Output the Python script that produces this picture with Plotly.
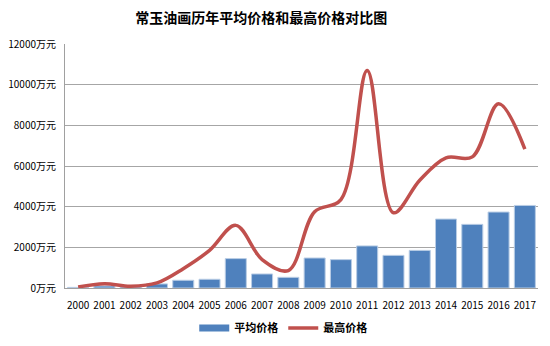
import plotly.graph_objects as go

years = [str(y) for y in range(2000, 2018)]
avg_price = [30, 100, 50, 200, 380, 430, 1445, 690, 525, 1475, 1395, 2070, 1605, 1850, 3390, 3130, 3735, 4060]
max_price = [50, 210, 90, 250, 950, 1850, 3080, 1400, 860, 3750, 4350, 10700, 3700, 5300, 6400, 6450, 9060, 6830]
y_ticks = [0, 2000, 4000, 6000, 8000, 10000, 12000]
y_labels = [f"{v}万元" for v in y_ticks]

font_family = "Noto Sans CJK SC, Noto Sans, sans-serif"

fig = go.Figure()
fig.add_trace(go.Bar(
    x=years, y=avg_price, name="平均价格", showlegend=False,
    marker=dict(color="#4F81BD", line=dict(color="#B9CDE5", width=1)),
))
# legend swatch for the bars (wide rectangle like the reference)
fig.add_trace(go.Scatter(
    x=[None], y=[None], name="平均价格", mode="lines",
    line=dict(color="#4F81BD", width=7),
))
fig.add_trace(go.Scatter(
    x=years, y=max_price, name="最高价格", mode="lines",
    line=dict(color="#C0504D", width=3.5, shape="spline", smoothing=1.0),
))

fig.update_layout(
    width=550, height=346,
    margin=dict(l=65, r=12, t=44, b=58, autoexpand=False),
    paper_bgcolor="white", plot_bgcolor="white",
    bargap=0.2,
    showlegend=True,
    title=dict(text="<b>常玉油画历年平均价格和最高价格对比图</b>",
               x=0.475, xanchor="center", y=0.948, yanchor="middle", yref="container",
               font=dict(family=font_family, size=14, color="#000000")),
    legend=dict(orientation="h", x=0.515, xref="container", xanchor="center",
                y=0.052, yref="container", yanchor="middle",
                font=dict(family=font_family, size=11, color="#000000", weight="bold"),
                itemwidth=30, traceorder="normal"),
    font=dict(family=font_family, size=10, color="#000000"),
)
fig.update_xaxes(
    type="category", showgrid=False, showline=True, linecolor="#A0A0A0", linewidth=1,
    ticks="", tickfont=dict(size=10, family=font_family), tickangle=0,
    ticklabelstandoff=8, automargin=False,
)
fig.update_yaxes(
    range=[0, 12000], tickvals=y_ticks, ticktext=y_labels,
    showgrid=True, gridcolor="#A6A6A6", gridwidth=1,
    showline=True, linecolor="#A0A0A0", linewidth=1, zeroline=False,
    ticks="", tickfont=dict(size=10, family=font_family),
    ticklabelstandoff=6, automargin=False,
)

fig.write_html("out.html")
